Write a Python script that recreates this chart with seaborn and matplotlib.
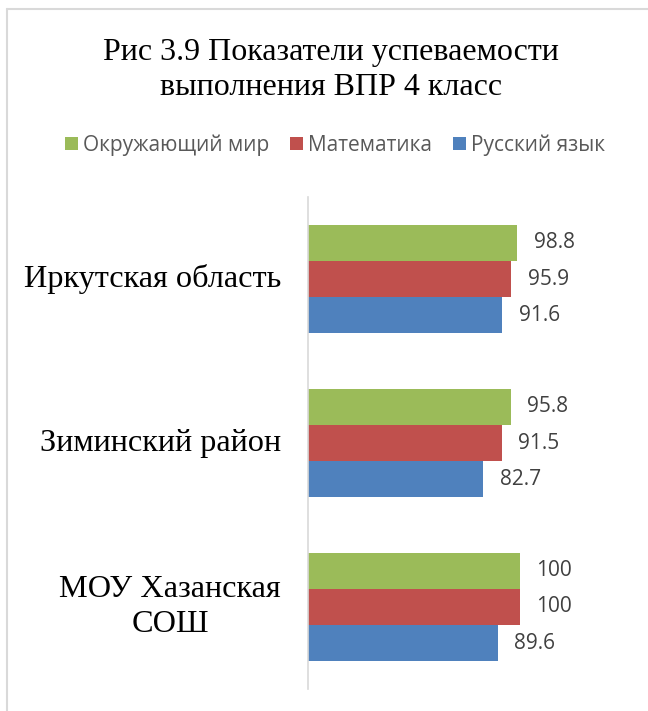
import matplotlib
matplotlib.use("Agg")
import matplotlib.pyplot as plt
import matplotlib.transforms as mtransforms
import seaborn as sns
import pandas as pd
from matplotlib.lines import Line2D
from matplotlib.patches import Patch

categories = ["Иркутская область", "Зиминский район", "МОУ Хазанская\nСОШ"]
series = ["Окружающий мир", "Математика", "Русский язык"]
okr_mir = [98.8, 95.8, 100]
matem = [95.9, 91.5, 100]
rus_yaz = [91.6, 82.7, 89.6]
colors = ["#9BBB59", "#C0504D", "#4F81BD"]

rows = []
for s, vals in zip(series, [okr_mir, matem, rus_yaz]):
    for c, v in zip(categories, vals):
        rows.append({"cat": c, "series": s, "value": v})
df = pd.DataFrame(rows)

sns.set_theme(style="white")
fig = plt.figure(figsize=(6.48, 7.11), dpi=100)
ax = fig.add_axes([308/648, 1-689/711, (562-308)/648, (689-197)/711])

sns.barplot(data=df, y="cat", x="value", hue="series", order=categories,
            hue_order=series, palette=colors, orient="h", width=0.66,
            ax=ax, legend=False, saturation=1, edgecolor="none")

ax.set_xlim(0, 120)
ax.set_ylim(2.5, -0.5)
ax.set_xlabel("")
ax.set_ylabel("")
ax.set_xticks([])
for sp in ["top", "right", "bottom"]:
    ax.spines[sp].set_visible(False)
ax.spines["left"].set_color("#D9D9D9")
ax.spines["left"].set_linewidth(1.2)
ax.tick_params(axis="y", length=0)
ax.set_yticks(range(len(categories)))
ax.set_yticklabels([])

trans = mtransforms.blended_transform_factory(fig.transFigure, ax.transData)
for i, c in enumerate(categories):
    ax.text(281/648, i, c, transform=trans, ha="right", va="center",
            multialignment="center",
            fontfamily="Liberation Serif", fontsize=23.2, color="black",
            linespacing=1.3)

for cont in ax.containers:
    labels = [("%g" % b.get_width()) for b in cont]
    ax.bar_label(cont, labels=labels, padding=12, fontsize=15,
                 color="#404040", fontfamily="Open Sans")

fig.text(331/648, 1-70/711, "Рис 3.9 Показатели успеваемости\nвыполнения ВПР 4 класс",
         ha="center", va="center", fontfamily="Liberation Serif", fontsize=23,
         color="black", linespacing=1.25)

handles = [Patch(facecolor=c, edgecolor="none") for c in colors]
fig.legend(handles, series, loc="center", bbox_to_anchor=(335/648, 1-145/711),
           ncol=3, frameon=False, handlelength=0.62, handleheight=0.62,
           handletextpad=0.25, columnspacing=1.0,
           prop={"family": "Open Sans", "size": 15.0}, labelcolor="#595959")

fig.add_artist(Line2D([7/648, 7/648], [0, 1-9/711], transform=fig.transFigure,
                      color="#D9D9D9", lw=1.5))
fig.add_artist(Line2D([7/648, 1], [1-9/711, 1-9/711], transform=fig.transFigure,
                      color="#D9D9D9", lw=1.5))

fig.savefig("out.png", dpi=100)
